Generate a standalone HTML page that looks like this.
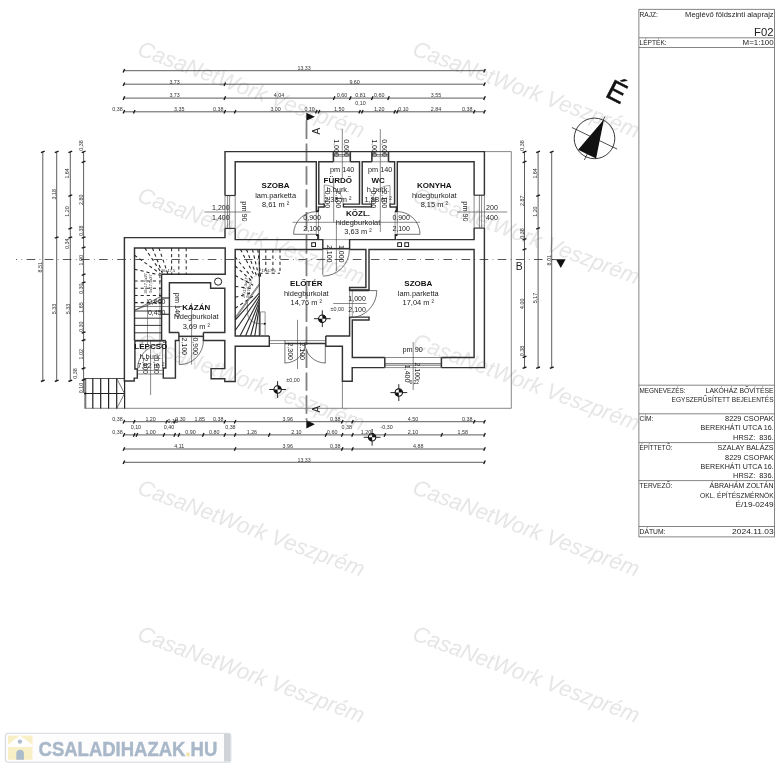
<!DOCTYPE html>
<html lang="hu"><head><meta charset="utf-8"><title>Meglévő földszinti alaprajz</title>
<style>html,body{margin:0;padding:0;background:#fff}svg{display:block}text{font-family:'Liberation Sans', sans-serif}</style>
</head><body>
<svg width="782" height="768" viewBox="0 0 782 768">
<rect width="782" height="768" fill="#fff"/>
<g opacity="0.999">
<text x="136.2" y="54.8" font-size="22.2" font-style="italic" fill="#e6e6e6" textLength="240" lengthAdjust="spacingAndGlyphs" transform="rotate(20.4 136.2 54.8)">CasaNetWork Veszprém</text>
<text x="411.2" y="54.8" font-size="22.2" font-style="italic" fill="#e6e6e6" textLength="240" lengthAdjust="spacingAndGlyphs" transform="rotate(20.4 411.2 54.8)">CasaNetWork Veszprém</text>
<text x="136.2" y="200.9" font-size="22.2" font-style="italic" fill="#e6e6e6" textLength="240" lengthAdjust="spacingAndGlyphs" transform="rotate(20.4 136.2 200.9)">CasaNetWork Veszprém</text>
<text x="411.2" y="200.9" font-size="22.2" font-style="italic" fill="#e6e6e6" textLength="240" lengthAdjust="spacingAndGlyphs" transform="rotate(20.4 411.2 200.9)">CasaNetWork Veszprém</text>
<text x="136.2" y="347.1" font-size="22.2" font-style="italic" fill="#e6e6e6" textLength="240" lengthAdjust="spacingAndGlyphs" transform="rotate(20.4 136.2 347.1)">CasaNetWork Veszprém</text>
<text x="411.2" y="347.1" font-size="22.2" font-style="italic" fill="#e6e6e6" textLength="240" lengthAdjust="spacingAndGlyphs" transform="rotate(20.4 411.2 347.1)">CasaNetWork Veszprém</text>
<text x="136.2" y="493.3" font-size="22.2" font-style="italic" fill="#e6e6e6" textLength="240" lengthAdjust="spacingAndGlyphs" transform="rotate(20.4 136.2 493.3)">CasaNetWork Veszprém</text>
<text x="411.2" y="493.3" font-size="22.2" font-style="italic" fill="#e6e6e6" textLength="240" lengthAdjust="spacingAndGlyphs" transform="rotate(20.4 411.2 493.3)">CasaNetWork Veszprém</text>
<text x="136.2" y="639.4" font-size="22.2" font-style="italic" fill="#e6e6e6" textLength="240" lengthAdjust="spacingAndGlyphs" transform="rotate(20.4 136.2 639.4)">CasaNetWork Veszprém</text>
<text x="411.2" y="639.4" font-size="22.2" font-style="italic" fill="#e6e6e6" textLength="240" lengthAdjust="spacingAndGlyphs" transform="rotate(20.4 411.2 639.4)">CasaNetWork Veszprém</text>
<g stroke="#666" stroke-width="0.8" fill="none">
<rect x="638.9" y="9.3" width="135.5" height="527.6"/>
<line x1="638.9" y1="37.8" x2="774.4" y2="37.8"/>
<line x1="638.9" y1="47.5" x2="774.4" y2="47.5"/>
<line x1="638.9" y1="385.2" x2="774.4" y2="385.2"/>
<line x1="638.9" y1="413.8" x2="774.4" y2="413.8"/>
<line x1="638.9" y1="442.6" x2="774.4" y2="442.6"/>
<line x1="638.9" y1="480.6" x2="774.4" y2="480.6"/>
<line x1="638.9" y1="526.5" x2="774.4" y2="526.5"/>
</g>
<text x="639.5" y="16.8" font-size="6.6" text-anchor="start" font-weight="normal" fill="#222">RAJZ:</text>
<text x="773.6" y="17.4" font-size="6.6" text-anchor="end" font-weight="normal" fill="#222" textLength="88.5" lengthAdjust="spacingAndGlyphs">Meglévő földszinti alaprajz</text>
<text x="773.6" y="35.8" font-size="11.6" text-anchor="end" font-weight="normal" fill="#222" textLength="19.5" lengthAdjust="spacingAndGlyphs">F02</text>
<text x="639.5" y="44.6" font-size="6.6" text-anchor="start" font-weight="normal" fill="#222">LÉPTÉK:</text>
<text x="773.6" y="45.4" font-size="6.6" text-anchor="end" font-weight="normal" fill="#222" textLength="31" lengthAdjust="spacingAndGlyphs">M=1:100</text>
<text x="639.5" y="393" font-size="6.6" text-anchor="start" font-weight="normal" fill="#222" textLength="46" lengthAdjust="spacingAndGlyphs">MEGNEVEZÉS:</text>
<text x="773.6" y="393" font-size="6.6" text-anchor="end" font-weight="normal" fill="#222" textLength="68" lengthAdjust="spacingAndGlyphs">LAKÓHÁZ BŐVÍTÉSE</text>
<text x="773.6" y="401.9" font-size="6.6" text-anchor="end" font-weight="normal" fill="#222" textLength="102" lengthAdjust="spacingAndGlyphs">EGYSZERŰSÍTETT BEJELENTÉS</text>
<text x="639.5" y="421" font-size="6.6" text-anchor="start" font-weight="normal" fill="#222">CÍM:</text>
<text x="773.6" y="421" font-size="6.6" text-anchor="end" font-weight="normal" fill="#222" textLength="48.5" lengthAdjust="spacingAndGlyphs">8229 CSOPAK</text>
<text x="773.6" y="430" font-size="6.6" text-anchor="end" font-weight="normal" fill="#222" textLength="73" lengthAdjust="spacingAndGlyphs">BEREKHÁTI UTCA 16.</text>
<text x="773.6" y="439.8" font-size="6.6" text-anchor="end" font-weight="normal" fill="#222" textLength="40.5" lengthAdjust="spacingAndGlyphs">HRSZ:&#160;&#160;836.</text>
<text x="639.5" y="449.7" font-size="6.6" text-anchor="start" font-weight="normal" fill="#222" textLength="33" lengthAdjust="spacingAndGlyphs">ÉPÍTTETŐ:</text>
<text x="773.6" y="449.7" font-size="6.6" text-anchor="end" font-weight="normal" fill="#222" textLength="56" lengthAdjust="spacingAndGlyphs">SZALAY BALÁZS</text>
<text x="773.6" y="459.8" font-size="6.6" text-anchor="end" font-weight="normal" fill="#222" textLength="48.5" lengthAdjust="spacingAndGlyphs">8229 CSOPAK</text>
<text x="773.6" y="468.7" font-size="6.6" text-anchor="end" font-weight="normal" fill="#222" textLength="73" lengthAdjust="spacingAndGlyphs">BEREKHÁTI UTCA 16.</text>
<text x="773.6" y="478.3" font-size="6.6" text-anchor="end" font-weight="normal" fill="#222" textLength="40.5" lengthAdjust="spacingAndGlyphs">HRSZ:&#160;&#160;836.</text>
<text x="639.5" y="487.9" font-size="6.6" text-anchor="start" font-weight="normal" fill="#222" textLength="33" lengthAdjust="spacingAndGlyphs">TERVEZŐ:</text>
<text x="773.6" y="487.9" font-size="6.6" text-anchor="end" font-weight="normal" fill="#222" textLength="64" lengthAdjust="spacingAndGlyphs">ÁBRAHÁM ZOLTÁN</text>
<text x="773.6" y="497.7" font-size="6.6" text-anchor="end" font-weight="normal" fill="#222" textLength="73.5" lengthAdjust="spacingAndGlyphs">OKL. ÉPÍTÉSZMÉRNÖK</text>
<text x="773.6" y="506.6" font-size="6.6" text-anchor="end" font-weight="normal" fill="#222" textLength="38" lengthAdjust="spacingAndGlyphs">É/19-0249</text>
<text x="639.5" y="534" font-size="6.6" text-anchor="start" font-weight="normal" fill="#222" textLength="26" lengthAdjust="spacingAndGlyphs">DÁTUM:</text>
<text x="773.6" y="534" font-size="6.6" text-anchor="end" font-weight="normal" fill="#222" textLength="41.5" lengthAdjust="spacingAndGlyphs">2024.11.03</text>
<circle cx="594.5" cy="138.4" r="20.3" fill="none" stroke="#222" stroke-width="0.9"/>
<line x1="571.9" y1="127.5" x2="617.2" y2="149.1" stroke="#222" stroke-width="0.8" />
<line x1="605" y1="116.3" x2="584.4" y2="160" stroke="#222" stroke-width="0.8" />
<path d="M603.9 119.4 L578.1 149.8 L596.1 158.4 Z" fill="#111"/>
<text x="612.6" y="100.2" font-size="28" text-anchor="middle" font-weight="normal" fill="#111" transform="rotate(27 612.6 100.2)" style="stroke:#111;stroke-width:0.5">É</text>
<path d="M484.4 151.6 L511.3 151.6 L511.3 408.3 L84.6 408.3" fill="none" stroke="#555" stroke-width="0.7" />
<line x1="342.4" y1="381.2" x2="342.4" y2="408.3" stroke="#555" stroke-width="0.7" />
<line x1="16" y1="259.5" x2="553" y2="259.5" stroke="#444" stroke-width="0.9" stroke-dasharray="8.6 4.41 0.7 4.41" stroke-dashoffset="7.52"/>
<line x1="306.5" y1="120.5" x2="306.5" y2="420" stroke="#808080" stroke-width="1.8" stroke-dasharray="18.4 4.5"/>
<path d="M306.3 112.8 L306.3 120.8 L314.9 116.8 Z" fill="#111"/>
<path d="M306.3 419.9 L306.3 428.5 L314.9 424.2 Z" fill="#111"/>
<text x="319.9" y="131.2" font-size="10" text-anchor="middle" font-weight="normal" fill="#222" transform="rotate(-90 319.9 131.2)">A</text>
<text x="319.9" y="409.2" font-size="10" text-anchor="middle" font-weight="normal" fill="#222" transform="rotate(-90 319.9 409.2)">A</text>
<path d="M555.9 259.3 L565.6 259.3 L560.8 267.9 Z" fill="#111"/>
<line x1="552" y1="259.6" x2="556" y2="259.6" stroke="#333" stroke-width="0.9" />
<text x="519.3" y="269.6" font-size="10.4" text-anchor="middle" font-weight="normal" fill="#222">B</text>
<path d="M225 195.5 L225 151.6 L484.4 151.6 L484.4 195.2" fill="none" stroke="#333333" stroke-width="1.45" />
<path d="M484.4 228.1 L484.4 367.6 L441.4 367.6" fill="none" stroke="#333333" stroke-width="1.45" />
<path d="M384.8 367.6 L352.2 367.6 L352.2 381.2 L342.4 381.2 L342.4 346.2 L325.8 346.2 L325.8 335.9" fill="none" stroke="#333333" stroke-width="1.45" />
<path d="M269.3 336 L269.3 346.2 L235.2 346.2 L235.2 381.4 L224.8 381.4 L224.8 378.8 L211.1 378.8 L211.1 368.6 L224.8 368.6 L224.8 340.5 L203.4 340.5 L203.4 332.6" fill="none" stroke="#333333" stroke-width="1.45" />
<path d="M178.9 332.4 L178.9 340.5 L175.4 340.5 L175.4 378.1 L163.3 378.1 L163.3 368 L165.8 368 L165.8 340.7" fill="none" stroke="#333333" stroke-width="1.45" />
<path d="M134.9 340.7 L134.9 368.9 L137.3 368.9 L137.3 378.1 L134.2 378.1 L134.2 380.9 L124.4 380.9 L124.4 237.6 L225 237.6 L225 228.4" fill="none" stroke="#333333" stroke-width="1.45" />
<path d="M316.3 211 L316.3 161.8 L235.2 161.8 L235.2 195.5" fill="none" stroke="#333333" stroke-width="1.45" />
<path d="M235.2 228.4 L235.2 239.6 L322.8 239.6 L322.8 249.5" fill="none" stroke="#333333" stroke-width="1.45" />
<path d="M316.3 235.1 L317.9 235.1 L317.9 239.6" fill="none" stroke="#333333" stroke-width="1.45" />
<line x1="225" y1="195.5" x2="235.2" y2="195.5" stroke="#333333" stroke-width="1.2" />
<line x1="225" y1="228.4" x2="235.2" y2="228.4" stroke="#333333" stroke-width="1.2" />
<line x1="225" y1="195.5" x2="225" y2="228.4" stroke="#3a3a3a" stroke-width="0.6" />
<line x1="235.2" y1="195.5" x2="235.2" y2="228.4" stroke="#3a3a3a" stroke-width="0.6" />
<line x1="227.6" y1="195.5" x2="227.6" y2="228.4" stroke="#3a3a3a" stroke-width="0.6" />
<line x1="229.6" y1="195.5" x2="229.6" y2="228.4" stroke="#3a3a3a" stroke-width="0.6" />
<path d="M324.2 204.1 L318.8 204.1 L318.8 161.8 L333.4 161.8" fill="none" stroke="#333333" stroke-width="1.45" />
<path d="M350.3 161.8 L359.5 161.8 L359.5 204.1 L343.4 204.1" fill="none" stroke="#333333" stroke-width="1.45" />
<path d="M371.5 204.1 L362.2 204.1 L362.2 161.8 L371.9 161.8" fill="none" stroke="#333333" stroke-width="1.45" />
<path d="M388.5 161.8 L394.6 161.8 L394.6 204.1 L390 204.1" fill="none" stroke="#333333" stroke-width="1.45" />
<line x1="333.4" y1="151.6" x2="333.4" y2="161.8" stroke="#333333" stroke-width="1.6" />
<line x1="350.3" y1="151.6" x2="350.3" y2="161.8" stroke="#333333" stroke-width="1.6" />
<line x1="333.4" y1="161.8" x2="350.3" y2="161.8" stroke="#3a3a3a" stroke-width="0.6" />
<line x1="333.4" y1="154.6" x2="350.3" y2="154.6" stroke="#3a3a3a" stroke-width="0.6" />
<line x1="333.4" y1="156.2" x2="350.3" y2="156.2" stroke="#3a3a3a" stroke-width="0.6" />
<line x1="371.9" y1="151.6" x2="371.9" y2="161.8" stroke="#333333" stroke-width="1.6" />
<line x1="388.5" y1="151.6" x2="388.5" y2="161.8" stroke="#333333" stroke-width="1.6" />
<line x1="371.9" y1="161.8" x2="388.5" y2="161.8" stroke="#3a3a3a" stroke-width="0.6" />
<line x1="371.9" y1="154.6" x2="388.5" y2="154.6" stroke="#3a3a3a" stroke-width="0.6" />
<line x1="371.9" y1="156.2" x2="388.5" y2="156.2" stroke="#3a3a3a" stroke-width="0.6" />
<path d="M324.2 206.9 L318.4 206.9 L318.4 211" fill="none" stroke="#333333" stroke-width="1.45" />
<path d="M343.4 206.9 L371.5 206.9" fill="none" stroke="#333333" stroke-width="1.45" />
<path d="M390 206.9 L396.4 206.9 L396.4 211" fill="none" stroke="#333333" stroke-width="1.45" />
<path d="M318.4 235.1 L318.4 239.6" fill="none" stroke="#333333" stroke-width="1.45" />
<line x1="324.2" y1="203.6" x2="324.2" y2="207.4" stroke="#333333" stroke-width="1.4" />
<line x1="343.4" y1="203.6" x2="343.4" y2="207.4" stroke="#333333" stroke-width="1.4" />
<line x1="371.5" y1="203.6" x2="371.5" y2="207.4" stroke="#333333" stroke-width="1.4" />
<line x1="390" y1="203.6" x2="390" y2="207.4" stroke="#333333" stroke-width="1.4" />
<path d="M349.6 249.5 L349.6 239.6 L395.3 239.6 L395.3 235.1 L397.3 235.1" fill="none" stroke="#333333" stroke-width="1.45" />
<line x1="316.3" y1="211" x2="318.4" y2="211" stroke="#333333" stroke-width="1.2" />
<line x1="396.4" y1="211" x2="397.3" y2="211" stroke="#333333" stroke-width="1.2" />
<path d="M397.3 211 L397.3 161.8 L474.1 161.8 L474.1 195.2" fill="none" stroke="#333333" stroke-width="1.45" />
<path d="M474.1 228.1 L474.1 239.6 L396.2 239.6" fill="none" stroke="#333333" stroke-width="1.45" />
<line x1="474.1" y1="195.2" x2="484.4" y2="195.2" stroke="#333333" stroke-width="1.2" />
<line x1="474.1" y1="228.1" x2="484.4" y2="228.1" stroke="#333333" stroke-width="1.2" />
<line x1="474.1" y1="195.2" x2="474.1" y2="228.1" stroke="#3a3a3a" stroke-width="0.6" />
<line x1="484.4" y1="195.2" x2="484.4" y2="228.1" stroke="#3a3a3a" stroke-width="0.6" />
<line x1="479.4" y1="195.2" x2="479.4" y2="228.1" stroke="#3a3a3a" stroke-width="0.6" />
<line x1="481.6" y1="195.2" x2="481.6" y2="228.1" stroke="#3a3a3a" stroke-width="0.6" />
<path d="M322.8 249.5 L235.2 249.5 L235.2 336 L269.3 336" fill="none" stroke="#333333" stroke-width="1.45" />
<path d="M325.8 336 L349.6 336 L349.6 317.1 L369 317.1 L369 319.9 L352.3 319.9 L352.3 357.5 L384.8 357.5" fill="none" stroke="#333333" stroke-width="1.45" />
<path d="M349.6 249.5 L365.9 249.5 L365.9 287.4 L349.6 287.4 L349.6 290.2 L369 290.2 L369 249.5 L474.1 249.5 L474.1 357.5 L441.4 357.5" fill="none" stroke="#333333" stroke-width="1.45" />
<line x1="384.8" y1="357.5" x2="384.8" y2="367.6" stroke="#333333" stroke-width="1.5" />
<line x1="441.4" y1="357.5" x2="441.4" y2="367.6" stroke="#333333" stroke-width="1.5" />
<line x1="384.8" y1="357.5" x2="441.4" y2="357.5" stroke="#3a3a3a" stroke-width="0.6" />
<line x1="384.8" y1="367.6" x2="441.4" y2="367.6" stroke="#3a3a3a" stroke-width="0.6" />
<line x1="384.8" y1="363.6" x2="441.4" y2="363.6" stroke="#3a3a3a" stroke-width="0.7" />
<line x1="384.8" y1="365.2" x2="441.4" y2="365.2" stroke="#3a3a3a" stroke-width="0.7" />
<path d="M161.6 340.7 L161.6 274.3 L225.2 274.3 L225.2 248 L134.5 248 L134.5 340.7" fill="none" stroke="#333333" stroke-width="1.45" />
<line x1="134.5" y1="340.7" x2="166" y2="340.7" stroke="#333333" stroke-width="1.8" />
<path d="M178.9 332.5 L169.4 332.5 L169.4 282.8 L210.6 282.8 L210.6 288.2 L224.8 288.2 L224.8 332.5 L203.4 332.5" fill="none" stroke="#333333" stroke-width="1.45" />
<circle cx="218.1" cy="281.6" r="3.6" fill="#fff" stroke="#222" stroke-width="1"/>
<rect x="311.7" y="242.7" width="3.8" height="3.8" fill="#fff" stroke="#222" stroke-width="1"/>
<rect x="397.7" y="242.7" width="3.8" height="3.8" fill="#fff" stroke="#222" stroke-width="1"/>
<rect x="404.8" y="242.7" width="3.8" height="3.8" fill="#fff" stroke="#222" stroke-width="1"/>
<line x1="293.6" y1="234.3" x2="316.3" y2="234.3" stroke="#3a3a3a" stroke-width="0.7" />
<path d="M293.6 234.3 A22.7 22.7 0 0 1 316.3 211.6" fill="none" stroke="#3a3a3a" stroke-width="0.7"/>
<line x1="316.3" y1="211" x2="316.3" y2="235" stroke="#3a3a3a" stroke-width="0.5" />
<line x1="318.5" y1="211" x2="318.5" y2="235" stroke="#3a3a3a" stroke-width="0.5" />
<line x1="397.3" y1="234.3" x2="420" y2="234.3" stroke="#3a3a3a" stroke-width="0.7" />
<path d="M397.3 211.6 A22.7 22.7 0 0 1 420 234.3" fill="none" stroke="#3a3a3a" stroke-width="0.7"/>
<line x1="395.1" y1="211" x2="395.1" y2="235" stroke="#3a3a3a" stroke-width="0.5" />
<line x1="397.3" y1="211" x2="397.3" y2="235" stroke="#3a3a3a" stroke-width="0.5" />
<rect x="316.2" y="210.4" width="2.4" height="1.8" fill="#1c1c1c"/>
<rect x="316.2" y="234.2" width="2.4" height="1.8" fill="#1c1c1c"/>
<rect x="395" y="210.4" width="2.4" height="1.8" fill="#1c1c1c"/>
<rect x="395" y="234.2" width="2.4" height="1.8" fill="#1c1c1c"/>
<line x1="322.8" y1="249.5" x2="322.8" y2="275" stroke="#3a3a3a" stroke-width="0.7" />
<path d="M322.8 276.1 A26.6 26.6 0 0 0 349.4 249.5" fill="none" stroke="#3a3a3a" stroke-width="0.7"/>
<line x1="322.8" y1="239.6" x2="349.6" y2="239.6" stroke="#3a3a3a" stroke-width="0.5" />
<line x1="322.8" y1="248.7" x2="349.6" y2="248.7" stroke="#333333" stroke-width="1.6" />
<line x1="349.6" y1="290.6" x2="376.9" y2="290.6" stroke="#3a3a3a" stroke-width="0.7" />
<path d="M376.8 290.6 A27.2 27.2 0 0 1 349.6 317.8" fill="none" stroke="#3a3a3a" stroke-width="0.7"/>
<line x1="349.6" y1="290.3" x2="369" y2="290.3" stroke="#333333" stroke-width="1.9" />
<line x1="349.6" y1="290.2" x2="349.6" y2="317.1" stroke="#3a3a3a" stroke-width="0.5" />
<line x1="352.3" y1="290.2" x2="352.3" y2="317.1" stroke="#3a3a3a" stroke-width="0.5" />
<line x1="179.3" y1="340.5" x2="179.3" y2="364.6" stroke="#3a3a3a" stroke-width="0.7" />
<path d="M179.3 364.6 A24.1 24.1 0 0 0 203.4 340.5" fill="none" stroke="#3a3a3a" stroke-width="0.7"/>
<line x1="178.9" y1="336.4" x2="203.4" y2="336.4" stroke="#333333" stroke-width="1.3" />
<line x1="162.6" y1="368.5" x2="162.6" y2="344.5" stroke="#3a3a3a" stroke-width="0.7" />
<path d="M162.6 344 A25 25 0 0 0 137.6 369" fill="none" stroke="#3a3a3a" stroke-width="0.7"/>
<line x1="137.3" y1="370.4" x2="163.3" y2="370.4" stroke="#3a3a3a" stroke-width="0.6" />
<line x1="137.3" y1="374" x2="163.3" y2="374" stroke="#3a3a3a" stroke-width="0.6" />
<line x1="269.3" y1="340.6" x2="325.8" y2="340.6" stroke="#3a3a3a" stroke-width="0.6" />
<line x1="269.3" y1="343.5" x2="284.9" y2="343.5" stroke="#3a3a3a" stroke-width="0.6" />
<line x1="284.9" y1="343.5" x2="325.4" y2="343.5" stroke="#333333" stroke-width="1.3" />
<line x1="284.9" y1="340.4" x2="284.9" y2="363.3" stroke="#3a3a3a" stroke-width="0.7" />
<path d="M284.9 363 A20.4 20.4 0 0 0 305.3 342.6" fill="none" stroke="#3a3a3a" stroke-width="0.7"/>
<line x1="325.3" y1="343.5" x2="325.3" y2="363.3" stroke="#3a3a3a" stroke-width="0.7" />
<path d="M325.3 363 A20.4 20.4 0 0 1 304.9 342.6" fill="none" stroke="#3a3a3a" stroke-width="0.7"/>
<line x1="324.2" y1="204" x2="324.2" y2="185" stroke="#3a3a3a" stroke-width="0.5" />
<path d="M324.2 185 A19 19 0 0 1 343.2 204" fill="none" stroke="#3a3a3a" stroke-width="0.5"/>
<line x1="390" y1="204" x2="390" y2="185.5" stroke="#3a3a3a" stroke-width="0.5" />
<path d="M390 185.5 A18.5 18.5 0 0 0 371.5 204" fill="none" stroke="#3a3a3a" stroke-width="0.5"/>
<line x1="85.3" y1="378.5" x2="85.3" y2="408.5" stroke="#777" stroke-width="2" />
<line x1="84.4" y1="378.5" x2="124.4" y2="378.5" stroke="#222" stroke-width="0.8" />
<line x1="84.4" y1="393.5" x2="124.4" y2="393.5" stroke="#222" stroke-width="1" />
<line x1="92.8" y1="378.5" x2="92.8" y2="408.5" stroke="#222" stroke-width="1.2" />
<line x1="100.7" y1="378.5" x2="100.7" y2="408.5" stroke="#222" stroke-width="1.2" />
<line x1="108.6" y1="378.5" x2="108.6" y2="408.5" stroke="#222" stroke-width="1.2" />
<line x1="116.7" y1="378.5" x2="116.7" y2="408.5" stroke="#222" stroke-width="1.2" />
<line x1="124.6" y1="380.9" x2="124.6" y2="408.5" stroke="#222" stroke-width="1.2" />
<path d="M116.7 378.5 L124.6 393.5 L116.7 408.5" fill="none" stroke="#3a3a3a" stroke-width="0.7" />
<circle cx="85.3" cy="393.5" r="1.1" fill="#111"/>
<line x1="134.5" y1="311" x2="161.6" y2="311" stroke="#222" stroke-width="0.9" />
<line x1="134.5" y1="318.2" x2="161.6" y2="318.2" stroke="#222" stroke-width="0.9" />
<line x1="134.5" y1="325.4" x2="161.6" y2="325.4" stroke="#222" stroke-width="0.9" />
<line x1="134.5" y1="332.8" x2="161.6" y2="332.8" stroke="#222" stroke-width="0.9" />
<line x1="134.5" y1="310.4" x2="161.6" y2="296" stroke="#3a3a3a" stroke-width="0.7" />
<line x1="134.5" y1="310.4" x2="161.6" y2="299.5" stroke="#3a3a3a" stroke-width="0.7" />
<line x1="134.5" y1="281" x2="161.6" y2="281" stroke="#2c2c2c" stroke-width="1.05" stroke-dasharray="3.2 2.9"/>
<line x1="134.5" y1="288.2" x2="161.6" y2="288.2" stroke="#2c2c2c" stroke-width="1.05" stroke-dasharray="3.2 2.9"/>
<line x1="134.5" y1="295.4" x2="161.6" y2="295.4" stroke="#2c2c2c" stroke-width="1.05" stroke-dasharray="3.2 2.9"/>
<line x1="134.5" y1="302.6" x2="161.6" y2="302.6" stroke="#2c2c2c" stroke-width="1.05" stroke-dasharray="3.2 2.9"/>
<line x1="171.6" y1="248" x2="171.6" y2="274.3" stroke="#2c2c2c" stroke-width="1.05" stroke-dasharray="3.2 2.9"/>
<line x1="178.8" y1="248" x2="178.8" y2="274.3" stroke="#2c2c2c" stroke-width="1.05" stroke-dasharray="3.2 2.9"/>
<line x1="186.2" y1="248" x2="186.2" y2="274.3" stroke="#2c2c2c" stroke-width="1.05" stroke-dasharray="3.2 2.9"/>
<line x1="134.5" y1="255.2" x2="160.6" y2="273.92" stroke="#222" stroke-width="1.05" stroke-dasharray="3.2 2.9"/>
<line x1="134.5" y1="269.2" x2="160.6" y2="275.32" stroke="#222" stroke-width="1.05" stroke-dasharray="3.2 2.9"/>
<line x1="144.8" y1="248" x2="161.63" y2="273.2" stroke="#222" stroke-width="1.05" stroke-dasharray="3.2 2.9"/>
<line x1="152.4" y1="248" x2="162.39" y2="273.2" stroke="#222" stroke-width="1.05" stroke-dasharray="3.2 2.9"/>
<line x1="158.9" y1="248" x2="168" y2="274.3" stroke="#2c2c2c" stroke-width="1.05" stroke-dasharray="3.2 2.9"/>
<line x1="159.8" y1="275" x2="159.8" y2="300" stroke="#333" stroke-width="0.8" stroke-dasharray="3.2 2.9"/>
<text x="168.2" y="272.4" font-size="4" text-anchor="middle" font-weight="normal" fill="#222">16x17,5</text>
<text x="147.4" y="283.5" font-size="4" text-anchor="middle" font-weight="normal" fill="#2a2a2a" transform="rotate(-90 147.4 283.5)">16x17,5x27</text>
<text x="151.6" y="283.5" font-size="4" text-anchor="middle" font-weight="normal" fill="#2a2a2a" transform="rotate(-90 151.6 283.5)">9x17,5x27</text>
<text x="268.5" y="271.8" font-size="4" text-anchor="middle" font-weight="normal" fill="#222">17x17,5</text>
<text x="246.2" y="288" font-size="4" text-anchor="middle" font-weight="normal" fill="#2a2a2a" transform="rotate(-80 246.2 288)">17x17,5x27</text>
<text x="250.4" y="289" font-size="4" text-anchor="middle" font-weight="normal" fill="#2a2a2a" transform="rotate(-80 250.4 289)">9x17,5x27</text>
<line x1="147.5" y1="299" x2="147.5" y2="345" stroke="#3a3a3a" stroke-width="0.5" />
<line x1="159.9" y1="290" x2="159.9" y2="345" stroke="#3a3a3a" stroke-width="0.5" />
<line x1="259.3" y1="249.5" x2="259.3" y2="336" stroke="#222" stroke-width="1" />
<line x1="259.2" y1="283.7" x2="235.2" y2="317.4" stroke="#222" stroke-width="0.6" />
<line x1="259.2" y1="285.3" x2="235.2" y2="319" stroke="#222" stroke-width="0.6" />
<line x1="259.2" y1="293.2" x2="235.2" y2="320.2" stroke="#2a2a2a" stroke-width="1.1" />
<line x1="259.2" y1="296" x2="235.2" y2="330.5" stroke="#2a2a2a" stroke-width="1.1" />
<line x1="259.2" y1="298.8" x2="240" y2="336" stroke="#2a2a2a" stroke-width="1.1" />
<line x1="259.2" y1="301.6" x2="245.6" y2="336" stroke="#2a2a2a" stroke-width="1.1" />
<line x1="259.2" y1="304.4" x2="250.6" y2="336" stroke="#2a2a2a" stroke-width="1.1" />
<line x1="259.2" y1="307.5" x2="254.8" y2="336" stroke="#2a2a2a" stroke-width="1.1" />
<line x1="235.2" y1="257" x2="253.16" y2="279.11" stroke="#222" stroke-width="1.05" stroke-dasharray="3.2 2.9"/>
<line x1="235.2" y1="266" x2="253.16" y2="282.08" stroke="#222" stroke-width="1.05" stroke-dasharray="3.2 2.9"/>
<line x1="235.2" y1="275.5" x2="253.16" y2="285.21" stroke="#222" stroke-width="1.05" stroke-dasharray="3.2 2.9"/>
<line x1="235.2" y1="286.4" x2="253.16" y2="288.81" stroke="#222" stroke-width="1.05" stroke-dasharray="3.2 2.9"/>
<line x1="235.2" y1="297.3" x2="253.16" y2="292.41" stroke="#222" stroke-width="1.05" stroke-dasharray="3.2 2.9"/>
<line x1="235.2" y1="308.3" x2="253.16" y2="296.04" stroke="#222" stroke-width="1.05" stroke-dasharray="3.2 2.9"/>
<line x1="240.5" y1="249.5" x2="254.91" y2="276.63" stroke="#222" stroke-width="1.05" stroke-dasharray="3.2 2.9"/>
<line x1="246.5" y1="249.5" x2="256.88" y2="276.63" stroke="#222" stroke-width="1.05" stroke-dasharray="3.2 2.9"/>
<line x1="252.5" y1="249.5" x2="258.87" y2="276.63" stroke="#222" stroke-width="1.05" stroke-dasharray="3.2 2.9"/>
<line x1="257.8" y1="249.5" x2="260.61" y2="276.63" stroke="#222" stroke-width="1.05" stroke-dasharray="3.2 2.9"/>
<line x1="265.8" y1="249.5" x2="265.8" y2="273.3" stroke="#2c2c2c" stroke-width="1.05" stroke-dasharray="3.2 2.9"/>
<line x1="272.9" y1="249.5" x2="272.9" y2="273.3" stroke="#2c2c2c" stroke-width="1.05" stroke-dasharray="3.2 2.9"/>
<line x1="280" y1="249.5" x2="280" y2="273.3" stroke="#2c2c2c" stroke-width="1.05" stroke-dasharray="3.2 2.9"/>
<line x1="259.4" y1="273.3" x2="280" y2="273.3" stroke="#2c2c2c" stroke-width="1.05" stroke-dasharray="3.2 2.9"/>
<path d="M247.3 301.9 V311.8 A12 12 0 0 0 259.3 323.8 H264.6" fill="none" stroke="#333" stroke-width="0.6"/>
<path d="M260.5 336 V311.9 H265.1 V336" fill="none" stroke="#777" stroke-width="0.8"/>
<circle cx="264.8" cy="323.8" r="1" fill="#111"/>
<text x="275.6" y="188.3" font-size="8" text-anchor="middle" font-weight="bold" fill="#111">SZOBA</text>
<text x="275.6" y="197.5" font-size="7.45" text-anchor="middle" font-weight="normal" fill="#222">lam.parketta</text>
<text x="275.6" y="206.7" font-size="7.45" text-anchor="middle" font-weight="normal" fill="#222">8,61 m ²</text>
<text x="337.8" y="182.5" font-size="8" text-anchor="middle" font-weight="bold" fill="#111">FÜRDŐ</text>
<text x="337.8" y="192" font-size="7.45" text-anchor="middle" font-weight="normal" fill="#222">h.burk.</text>
<text x="337.8" y="201.5" font-size="7.45" text-anchor="middle" font-weight="normal" fill="#222">2,38 m ²</text>
<text x="378.2" y="182.5" font-size="8" text-anchor="middle" font-weight="bold" fill="#111">WC</text>
<text x="378.2" y="192" font-size="7.45" text-anchor="middle" font-weight="normal" fill="#222">h.burk.</text>
<text x="378.2" y="201.5" font-size="7.45" text-anchor="middle" font-weight="normal" fill="#222">1,88 m ²</text>
<text x="434.3" y="188.3" font-size="8" text-anchor="middle" font-weight="bold" fill="#111">KONYHA</text>
<text x="434.3" y="197.5" font-size="7.45" text-anchor="middle" font-weight="normal" fill="#222">hidegburkolat</text>
<text x="434.3" y="206.7" font-size="7.45" text-anchor="middle" font-weight="normal" fill="#222">8,15 m ²</text>
<text x="358" y="216" font-size="8" text-anchor="middle" font-weight="bold" fill="#111">KÖZL.</text>
<text x="358" y="225.2" font-size="7.45" text-anchor="middle" font-weight="normal" fill="#222">hidegburkolat</text>
<text x="358" y="234.4" font-size="7.45" text-anchor="middle" font-weight="normal" fill="#222">3,63 m ²</text>
<text x="306.3" y="286" font-size="8" text-anchor="middle" font-weight="bold" fill="#111">ELŐTÉR</text>
<text x="306.3" y="295.6" font-size="7.45" text-anchor="middle" font-weight="normal" fill="#222">hidegburkolat</text>
<text x="306.3" y="305.2" font-size="7.45" text-anchor="middle" font-weight="normal" fill="#222">14,76 m ²</text>
<text x="418.3" y="286" font-size="8" text-anchor="middle" font-weight="bold" fill="#111">SZOBA</text>
<text x="418.3" y="295.6" font-size="7.45" text-anchor="middle" font-weight="normal" fill="#222">lam.parketta</text>
<text x="418.3" y="305.2" font-size="7.45" text-anchor="middle" font-weight="normal" fill="#222">17,04 m ²</text>
<text x="196.3" y="310.2" font-size="8" text-anchor="middle" font-weight="bold" fill="#111">KAZÁN</text>
<text x="196.3" y="319.4" font-size="7.45" text-anchor="middle" font-weight="normal" fill="#222">hidegburkolat</text>
<text x="196.3" y="328.6" font-size="7.45" text-anchor="middle" font-weight="normal" fill="#222">3,69 m ²</text>
<text x="150.8" y="349.2" font-size="8" text-anchor="middle" font-weight="bold" fill="#111">LÉPCSŐ</text>
<text x="150.8" y="358.5" font-size="7.45" text-anchor="middle" font-weight="normal" fill="#222">h.burk.</text>
<text x="150.8" y="367.8" font-size="7.45" text-anchor="middle" font-weight="normal" fill="#222">7,82 m ²</text>
<text x="342.2" y="172.2" font-size="7.3" text-anchor="middle" font-weight="normal" fill="#222">pm 140</text>
<text x="380.2" y="172.2" font-size="7.3" text-anchor="middle" font-weight="normal" fill="#222">pm 140</text>
<text x="412.7" y="352" font-size="7.3" text-anchor="middle" font-weight="normal" fill="#222">pm 90</text>
<text x="242" y="211.5" font-size="7.3" text-anchor="middle" font-weight="normal" fill="#222" transform="rotate(90 242 211.5)">pm 90</text>
<text x="462.8" y="211.5" font-size="7.3" text-anchor="middle" font-weight="normal" fill="#222" transform="rotate(90 462.8 211.5)">pm 90</text>
<text x="174.6" y="305" font-size="7.3" text-anchor="middle" font-weight="normal" fill="#222" transform="rotate(90 174.6 305)">pm 140</text>
<text x="229.6" y="209.8" font-size="7" text-anchor="end" font-weight="normal" fill="#222">1,200</text>
<text x="229.6" y="220.3" font-size="7" text-anchor="end" font-weight="normal" fill="#222">1,400</text>
<line x1="204.5" y1="212" x2="250.5" y2="212" stroke="#3a3a3a" stroke-width="0.6" />
<text x="486.1" y="209.6" font-size="7" text-anchor="start" font-weight="normal" fill="#222">200</text>
<text x="486.1" y="220.1" font-size="7" text-anchor="start" font-weight="normal" fill="#222">400</text>
<line x1="457.2" y1="212" x2="507.3" y2="212" stroke="#3a3a3a" stroke-width="0.6" />
<text x="320.9" y="220" font-size="7" text-anchor="end" font-weight="normal" fill="#222">0,900</text>
<text x="320.9" y="230.9" font-size="7" text-anchor="end" font-weight="normal" fill="#222">2,100</text>
<line x1="292.5" y1="222.3" x2="420.1" y2="222.3" stroke="#3a3a3a" stroke-width="0.6" />
<text x="392.4" y="220" font-size="7" text-anchor="start" font-weight="normal" fill="#222">0,900</text>
<text x="392.4" y="230.9" font-size="7" text-anchor="start" font-weight="normal" fill="#222">2,100</text>
<text x="348.3" y="300.7" font-size="7" text-anchor="start" font-weight="normal" fill="#222">1,000</text>
<text x="348.3" y="311.5" font-size="7" text-anchor="start" font-weight="normal" fill="#222">2,100</text>
<line x1="333.2" y1="303.5" x2="366.5" y2="303.5" stroke="#3a3a3a" stroke-width="0.6" />
<text x="333.9" y="139.2" font-size="7" text-anchor="start" font-weight="normal" fill="#222" transform="rotate(90 333.9 139.2)">1,000</text>
<text x="344.3" y="139.2" font-size="7" text-anchor="start" font-weight="normal" fill="#222" transform="rotate(90 344.3 139.2)">0,600</text>
<text x="371.8" y="139.2" font-size="7" text-anchor="start" font-weight="normal" fill="#222" transform="rotate(90 371.8 139.2)">1,000</text>
<text x="382.2" y="139.2" font-size="7" text-anchor="start" font-weight="normal" fill="#222" transform="rotate(90 382.2 139.2)">0,600</text>
<line x1="342.3" y1="129" x2="342.3" y2="178" stroke="#3a3a3a" stroke-width="0.6" />
<line x1="380.3" y1="129" x2="380.3" y2="232" stroke="#3a3a3a" stroke-width="0.6" />
<line x1="333.7" y1="182" x2="333.7" y2="222.1" stroke="#3a3a3a" stroke-width="0.6" />
<line x1="336.4" y1="222.1" x2="336.4" y2="271" stroke="#3a3a3a" stroke-width="0.6" />
<text x="324.5" y="190.6" font-size="7" text-anchor="start" font-weight="normal" fill="#222" transform="rotate(90 324.5 190.6)">0,700</text>
<text x="335.5" y="190.6" font-size="7" text-anchor="start" font-weight="normal" fill="#222" transform="rotate(90 335.5 190.6)">2,100</text>
<text x="371.1" y="190.6" font-size="7" text-anchor="start" font-weight="normal" fill="#222" transform="rotate(90 371.1 190.6)">0,700</text>
<text x="382.1" y="190.6" font-size="7" text-anchor="start" font-weight="normal" fill="#222" transform="rotate(90 382.1 190.6)">2,100</text>
<text x="327.3" y="245" font-size="7" text-anchor="start" font-weight="normal" fill="#222" transform="rotate(90 327.3 245)">2,100</text>
<text x="338.9" y="245" font-size="7" text-anchor="start" font-weight="normal" fill="#222" transform="rotate(90 338.9 245)">1,000</text>
<text x="288" y="342.5" font-size="7" text-anchor="start" font-weight="normal" fill="#222" transform="rotate(90 288 342.5)">2,300</text>
<text x="300.3" y="342.5" font-size="7" text-anchor="start" font-weight="normal" fill="#222" transform="rotate(90 300.3 342.5)">2,100</text>
<line x1="297.5" y1="319.8" x2="297.5" y2="369" stroke="#3a3a3a" stroke-width="0.6" />
<text x="182" y="337.5" font-size="7" text-anchor="start" font-weight="normal" fill="#222" transform="rotate(90 182 337.5)">2,100</text>
<text x="193.3" y="337.5" font-size="7" text-anchor="start" font-weight="normal" fill="#222" transform="rotate(90 193.3 337.5)">0,900</text>
<line x1="191.6" y1="303" x2="191.6" y2="364.5" stroke="#3a3a3a" stroke-width="0.6" />
<line x1="178.9" y1="336.4" x2="203.4" y2="336.4" stroke="#333333" stroke-width="1.3" />
<text x="142.6" y="357.8" font-size="6.4" text-anchor="start" font-weight="normal" fill="#222" transform="rotate(90 142.6 357.8)">2,100</text>
<text x="153.6" y="357.8" font-size="6.4" text-anchor="start" font-weight="normal" fill="#222" transform="rotate(90 153.6 357.8)">0,900</text>
<line x1="150.6" y1="340" x2="150.6" y2="395" stroke="#3a3a3a" stroke-width="0.6" />
<text x="405.2" y="364.8" font-size="7" text-anchor="start" font-weight="normal" fill="#222" transform="rotate(90 405.2 364.8)">1,400</text>
<text x="415.2" y="362.5" font-size="7" text-anchor="start" font-weight="normal" fill="#222" transform="rotate(90 415.2 362.5)">2,100</text>
<line x1="413.2" y1="342" x2="413.2" y2="390" stroke="#3a3a3a" stroke-width="0.6" />
<text x="413.6" y="384.4" font-size="4.7" text-anchor="middle" font-weight="normal" fill="#222">-0,22</text>
<text x="156.7" y="303.6" font-size="7" text-anchor="middle" font-weight="normal" fill="#222">0,600</text>
<text x="156.7" y="314.5" font-size="7" text-anchor="middle" font-weight="normal" fill="#222">0,450</text>
<line x1="134.5" y1="306.5" x2="182.7" y2="306.5" stroke="#3a3a3a" stroke-width="0.6" />
<line x1="161.6" y1="298" x2="169.4" y2="298" stroke="#333333" stroke-width="1.2" />
<line x1="161.6" y1="314.3" x2="169.4" y2="314.3" stroke="#333333" stroke-width="1.2" />
<line x1="313.9" y1="318.7" x2="330.7" y2="318.7" stroke="#111" stroke-width="0.9" />
<line x1="322.3" y1="310.3" x2="322.3" y2="327.1" stroke="#111" stroke-width="0.9" />
<circle cx="322.3" cy="318.7" r="3.7" fill="#fff" stroke="#111" stroke-width="1.1"/>
<path d="M322.3 318.7 L322.3 315 A3.7 3.7 0 0 1 326 318.7 Z" fill="#111"/>
<path d="M322.3 318.7 L322.3 322.4 A3.7 3.7 0 0 1 318.6 318.7 Z" fill="#111"/>
<line x1="269.2" y1="389.5" x2="286" y2="389.5" stroke="#111" stroke-width="0.9" />
<line x1="277.6" y1="381.1" x2="277.6" y2="397.9" stroke="#111" stroke-width="0.9" />
<circle cx="277.6" cy="389.5" r="3.7" fill="#fff" stroke="#111" stroke-width="1.1"/>
<path d="M277.6 389.5 L277.6 385.8 A3.7 3.7 0 0 1 281.3 389.5 Z" fill="#111"/>
<path d="M277.6 389.5 L277.6 393.2 A3.7 3.7 0 0 1 273.9 389.5 Z" fill="#111"/>
<line x1="390.4" y1="392.6" x2="407.2" y2="392.6" stroke="#111" stroke-width="0.9" />
<line x1="398.8" y1="384.2" x2="398.8" y2="401" stroke="#111" stroke-width="0.9" />
<circle cx="398.8" cy="392.6" r="3.7" fill="#fff" stroke="#111" stroke-width="1.1"/>
<path d="M398.8 392.6 L398.8 388.9 A3.7 3.7 0 0 1 402.5 392.6 Z" fill="#111"/>
<path d="M398.8 392.6 L398.8 396.3 A3.7 3.7 0 0 1 395.1 392.6 Z" fill="#111"/>
<line x1="363.7" y1="437.3" x2="380.5" y2="437.3" stroke="#111" stroke-width="0.9" />
<line x1="372.1" y1="428.9" x2="372.1" y2="445.7" stroke="#111" stroke-width="0.9" />
<circle cx="372.1" cy="437.3" r="3.7" fill="#fff" stroke="#111" stroke-width="1.1"/>
<path d="M372.1 437.3 L372.1 433.6 A3.7 3.7 0 0 1 375.8 437.3 Z" fill="#111"/>
<path d="M372.1 437.3 L372.1 441 A3.7 3.7 0 0 1 368.4 437.3 Z" fill="#111"/>
<text x="337.2" y="311.3" font-size="5.4" text-anchor="middle" font-weight="normal" fill="#333">±0,00</text>
<text x="293" y="381.7" font-size="5.4" text-anchor="middle" font-weight="normal" fill="#333">±0,00</text>
<line x1="123.9" y1="70.7" x2="484.5" y2="70.7" stroke="#333" stroke-width="0.8" />
<line x1="123.1" y1="72.5" x2="124.7" y2="68.9" stroke="#1a1a1a" stroke-width="1.35" />
<line x1="483.7" y1="72.5" x2="485.3" y2="68.9" stroke="#1a1a1a" stroke-width="1.35" />
<text x="304.1" y="70" font-size="5.35" text-anchor="middle" font-weight="normal" fill="#333">13,33</text>
<line x1="123.9" y1="84.2" x2="484.5" y2="84.2" stroke="#333" stroke-width="0.8" />
<line x1="123.1" y1="86" x2="124.7" y2="82.4" stroke="#1a1a1a" stroke-width="1.35" />
<line x1="224" y1="86" x2="225.6" y2="82.4" stroke="#1a1a1a" stroke-width="1.35" />
<line x1="483.7" y1="86" x2="485.3" y2="82.4" stroke="#1a1a1a" stroke-width="1.35" />
<text x="174.6" y="83.5" font-size="5.35" text-anchor="middle" font-weight="normal" fill="#333">3,73</text>
<text x="354.6" y="83.5" font-size="5.35" text-anchor="middle" font-weight="normal" fill="#333">9,60</text>
<line x1="123.9" y1="98.1" x2="484.5" y2="98.1" stroke="#333" stroke-width="0.8" />
<line x1="123.1" y1="99.9" x2="124.7" y2="96.3" stroke="#1a1a1a" stroke-width="1.35" />
<line x1="224" y1="99.9" x2="225.6" y2="96.3" stroke="#1a1a1a" stroke-width="1.35" />
<line x1="333.3" y1="99.9" x2="334.9" y2="96.3" stroke="#1a1a1a" stroke-width="1.35" />
<line x1="349.5" y1="99.9" x2="351.1" y2="96.3" stroke="#1a1a1a" stroke-width="1.35" />
<line x1="371.4" y1="99.9" x2="373" y2="96.3" stroke="#1a1a1a" stroke-width="1.35" />
<line x1="387.7" y1="99.9" x2="389.3" y2="96.3" stroke="#1a1a1a" stroke-width="1.35" />
<line x1="483.7" y1="99.9" x2="485.3" y2="96.3" stroke="#1a1a1a" stroke-width="1.35" />
<text x="174.6" y="97.4" font-size="5.35" text-anchor="middle" font-weight="normal" fill="#333">3,73</text>
<text x="279" y="97.4" font-size="5.35" text-anchor="middle" font-weight="normal" fill="#333">4,04</text>
<text x="342" y="97.4" font-size="5.35" text-anchor="middle" font-weight="normal" fill="#333">0,60</text>
<text x="360.5" y="97.4" font-size="5.35" text-anchor="middle" font-weight="normal" fill="#333">0,81</text>
<text x="379.2" y="97.4" font-size="5.35" text-anchor="middle" font-weight="normal" fill="#333">0,60</text>
<text x="436" y="97.4" font-size="5.35" text-anchor="middle" font-weight="normal" fill="#333">3,55</text>
<line x1="123.9" y1="111.8" x2="484.5" y2="111.8" stroke="#333" stroke-width="0.8" />
<line x1="123.1" y1="113.6" x2="124.7" y2="110" stroke="#1a1a1a" stroke-width="1.35" />
<line x1="133.4" y1="113.6" x2="135" y2="110" stroke="#1a1a1a" stroke-width="1.35" />
<line x1="224" y1="113.6" x2="225.6" y2="110" stroke="#1a1a1a" stroke-width="1.35" />
<line x1="234.3" y1="113.6" x2="235.9" y2="110" stroke="#1a1a1a" stroke-width="1.35" />
<line x1="315.5" y1="113.6" x2="317.1" y2="110" stroke="#1a1a1a" stroke-width="1.35" />
<line x1="318.2" y1="113.6" x2="319.8" y2="110" stroke="#1a1a1a" stroke-width="1.35" />
<line x1="358.8" y1="113.6" x2="360.4" y2="110" stroke="#1a1a1a" stroke-width="1.35" />
<line x1="361.5" y1="113.6" x2="363.1" y2="110" stroke="#1a1a1a" stroke-width="1.35" />
<line x1="393.9" y1="113.6" x2="395.5" y2="110" stroke="#1a1a1a" stroke-width="1.35" />
<line x1="396.6" y1="113.6" x2="398.2" y2="110" stroke="#1a1a1a" stroke-width="1.35" />
<line x1="473.4" y1="113.6" x2="475" y2="110" stroke="#1a1a1a" stroke-width="1.35" />
<line x1="483.7" y1="113.6" x2="485.3" y2="110" stroke="#1a1a1a" stroke-width="1.35" />
<text x="117.5" y="111.1" font-size="5.35" text-anchor="middle" font-weight="normal" fill="#333">0,38</text>
<text x="179.2" y="111.1" font-size="5.35" text-anchor="middle" font-weight="normal" fill="#333">3,35</text>
<text x="218.2" y="111.1" font-size="5.35" text-anchor="middle" font-weight="normal" fill="#333">0,38</text>
<text x="275.6" y="111.1" font-size="5.35" text-anchor="middle" font-weight="normal" fill="#333">3,00</text>
<text x="309.6" y="111.1" font-size="5.35" text-anchor="middle" font-weight="normal" fill="#333">0,10</text>
<text x="339.3" y="111.1" font-size="5.35" text-anchor="middle" font-weight="normal" fill="#333">1,50</text>
<text x="360.5" y="105.2" font-size="5.35" text-anchor="middle" font-weight="normal" fill="#333">0,10</text>
<text x="379.2" y="111.1" font-size="5.35" text-anchor="middle" font-weight="normal" fill="#333">1,20</text>
<text x="403.4" y="111.1" font-size="5.35" text-anchor="middle" font-weight="normal" fill="#333">0,10</text>
<text x="436" y="111.1" font-size="5.35" text-anchor="middle" font-weight="normal" fill="#333">2,84</text>
<text x="467.3" y="111.1" font-size="5.35" text-anchor="middle" font-weight="normal" fill="#333">0,38</text>
<line x1="123.9" y1="421.7" x2="484.5" y2="421.7" stroke="#333" stroke-width="0.8" />
<line x1="123.1" y1="423.5" x2="124.7" y2="419.9" stroke="#1a1a1a" stroke-width="1.35" />
<line x1="133.4" y1="423.5" x2="135" y2="419.9" stroke="#1a1a1a" stroke-width="1.35" />
<line x1="165.8" y1="423.5" x2="167.4" y2="419.9" stroke="#1a1a1a" stroke-width="1.35" />
<line x1="173.9" y1="423.5" x2="175.5" y2="419.9" stroke="#1a1a1a" stroke-width="1.35" />
<line x1="224" y1="423.5" x2="225.6" y2="419.9" stroke="#1a1a1a" stroke-width="1.35" />
<line x1="234.3" y1="423.5" x2="235.9" y2="419.9" stroke="#1a1a1a" stroke-width="1.35" />
<line x1="341.4" y1="423.5" x2="343" y2="419.9" stroke="#1a1a1a" stroke-width="1.35" />
<line x1="351.7" y1="423.5" x2="353.3" y2="419.9" stroke="#1a1a1a" stroke-width="1.35" />
<line x1="473.4" y1="423.5" x2="475" y2="419.9" stroke="#1a1a1a" stroke-width="1.35" />
<line x1="483.7" y1="423.5" x2="485.3" y2="419.9" stroke="#1a1a1a" stroke-width="1.35" />
<text x="117.5" y="421" font-size="5.35" text-anchor="middle" font-weight="normal" fill="#333">0,38</text>
<text x="150.6" y="421" font-size="5.35" text-anchor="middle" font-weight="normal" fill="#333">1,20</text>
<text x="180.4" y="421" font-size="5.35" text-anchor="middle" font-weight="normal" fill="#333">0,30</text>
<text x="199.8" y="421" font-size="5.35" text-anchor="middle" font-weight="normal" fill="#333">1,85</text>
<text x="218.2" y="421" font-size="5.35" text-anchor="middle" font-weight="normal" fill="#333">0,38</text>
<text x="287.8" y="421" font-size="5.35" text-anchor="middle" font-weight="normal" fill="#333">3,96</text>
<text x="335.3" y="421" font-size="5.35" text-anchor="middle" font-weight="normal" fill="#333">0,38</text>
<text x="413" y="421" font-size="5.35" text-anchor="middle" font-weight="normal" fill="#333">4,50</text>
<text x="467.3" y="421" font-size="5.35" text-anchor="middle" font-weight="normal" fill="#333">0,38</text>
<text x="135.9" y="429.2" font-size="5.35" text-anchor="middle" font-weight="normal" fill="#333">0,10</text>
<text x="169" y="429.2" font-size="5.35" text-anchor="middle" font-weight="normal" fill="#333">0,40</text>
<text x="230.4" y="429.2" font-size="5.35" text-anchor="middle" font-weight="normal" fill="#333">0,38</text>
<text x="346.7" y="429.2" font-size="5.35" text-anchor="middle" font-weight="normal" fill="#333">0,38</text>
<text x="386.6" y="429.2" font-size="5.35" text-anchor="middle" font-weight="normal" fill="#333">-0,30</text>
<line x1="123.9" y1="434.9" x2="484.5" y2="434.9" stroke="#333" stroke-width="0.8" />
<line x1="123.1" y1="436.7" x2="124.7" y2="433.1" stroke="#1a1a1a" stroke-width="1.35" />
<line x1="133.4" y1="436.7" x2="135" y2="433.1" stroke="#1a1a1a" stroke-width="1.35" />
<line x1="136.1" y1="436.7" x2="137.7" y2="433.1" stroke="#1a1a1a" stroke-width="1.35" />
<line x1="163.1" y1="436.7" x2="164.7" y2="433.1" stroke="#1a1a1a" stroke-width="1.35" />
<line x1="173.9" y1="436.7" x2="175.5" y2="433.1" stroke="#1a1a1a" stroke-width="1.35" />
<line x1="178.1" y1="436.7" x2="179.7" y2="433.1" stroke="#1a1a1a" stroke-width="1.35" />
<line x1="202.4" y1="436.7" x2="204" y2="433.1" stroke="#1a1a1a" stroke-width="1.35" />
<line x1="224" y1="436.7" x2="225.6" y2="433.1" stroke="#1a1a1a" stroke-width="1.35" />
<line x1="234.3" y1="436.7" x2="235.9" y2="433.1" stroke="#1a1a1a" stroke-width="1.35" />
<line x1="268.4" y1="436.7" x2="270" y2="433.1" stroke="#1a1a1a" stroke-width="1.35" />
<line x1="325.2" y1="436.7" x2="326.8" y2="433.1" stroke="#1a1a1a" stroke-width="1.35" />
<line x1="341.4" y1="436.7" x2="343" y2="433.1" stroke="#1a1a1a" stroke-width="1.35" />
<line x1="351.7" y1="436.7" x2="353.3" y2="433.1" stroke="#1a1a1a" stroke-width="1.35" />
<line x1="384.1" y1="436.7" x2="385.7" y2="433.1" stroke="#1a1a1a" stroke-width="1.35" />
<line x1="440.9" y1="436.7" x2="442.5" y2="433.1" stroke="#1a1a1a" stroke-width="1.35" />
<line x1="483.7" y1="436.7" x2="485.3" y2="433.1" stroke="#1a1a1a" stroke-width="1.35" />
<text x="117.5" y="434.2" font-size="5.35" text-anchor="middle" font-weight="normal" fill="#333">0,38</text>
<text x="150.6" y="434.2" font-size="5.35" text-anchor="middle" font-weight="normal" fill="#333">1,00</text>
<text x="190.5" y="434.2" font-size="5.35" text-anchor="middle" font-weight="normal" fill="#333">0,90</text>
<text x="214.2" y="434.2" font-size="5.35" text-anchor="middle" font-weight="normal" fill="#333">0,80</text>
<text x="251.9" y="434.2" font-size="5.35" text-anchor="middle" font-weight="normal" fill="#333">1,26</text>
<text x="296.4" y="434.2" font-size="5.35" text-anchor="middle" font-weight="normal" fill="#333">2,10</text>
<text x="332.2" y="434.2" font-size="5.35" text-anchor="middle" font-weight="normal" fill="#333">0,60</text>
<text x="366" y="434.2" font-size="5.35" text-anchor="middle" font-weight="normal" fill="#333">1,20</text>
<text x="413" y="434.2" font-size="5.35" text-anchor="middle" font-weight="normal" fill="#333">2,10</text>
<text x="462.7" y="434.2" font-size="5.35" text-anchor="middle" font-weight="normal" fill="#333">1,58</text>
<line x1="123.9" y1="449" x2="484.5" y2="449" stroke="#333" stroke-width="0.8" />
<line x1="123.1" y1="450.8" x2="124.7" y2="447.2" stroke="#1a1a1a" stroke-width="1.35" />
<line x1="234.3" y1="450.8" x2="235.9" y2="447.2" stroke="#1a1a1a" stroke-width="1.35" />
<line x1="341.4" y1="450.8" x2="343" y2="447.2" stroke="#1a1a1a" stroke-width="1.35" />
<line x1="351.7" y1="450.8" x2="353.3" y2="447.2" stroke="#1a1a1a" stroke-width="1.35" />
<line x1="483.7" y1="450.8" x2="485.3" y2="447.2" stroke="#1a1a1a" stroke-width="1.35" />
<text x="179.2" y="448.3" font-size="5.35" text-anchor="middle" font-weight="normal" fill="#333">4,11</text>
<text x="287.8" y="448.3" font-size="5.35" text-anchor="middle" font-weight="normal" fill="#333">3,96</text>
<text x="335.3" y="448.3" font-size="5.35" text-anchor="middle" font-weight="normal" fill="#333">0,38</text>
<text x="418.2" y="448.3" font-size="5.35" text-anchor="middle" font-weight="normal" fill="#333">4,88</text>
<line x1="123.9" y1="462.3" x2="484.5" y2="462.3" stroke="#333" stroke-width="0.8" />
<line x1="123.1" y1="464.1" x2="124.7" y2="460.5" stroke="#1a1a1a" stroke-width="1.35" />
<line x1="483.7" y1="464.1" x2="485.3" y2="460.5" stroke="#1a1a1a" stroke-width="1.35" />
<text x="304.1" y="461.6" font-size="5.35" text-anchor="middle" font-weight="normal" fill="#333">13,33</text>
<text x="172.8" y="423" font-size="5.35" text-anchor="middle" font-weight="normal" fill="#333">0,10</text>
<line x1="42.8" y1="151.9" x2="42.8" y2="380.8" stroke="#333" stroke-width="0.8" />
<line x1="40.9" y1="152.6" x2="44.7" y2="151.2" stroke="#1a1a1a" stroke-width="1.35" />
<line x1="40.9" y1="381.5" x2="44.7" y2="380.1" stroke="#1a1a1a" stroke-width="1.35" />
<text x="42" y="267.3" font-size="5.35" text-anchor="middle" font-weight="normal" fill="#333" transform="rotate(-90 42 267.3)">8,51</text>
<line x1="56.7" y1="151.9" x2="56.7" y2="380.8" stroke="#333" stroke-width="0.8" />
<line x1="54.8" y1="152.6" x2="58.6" y2="151.2" stroke="#1a1a1a" stroke-width="1.35" />
<line x1="54.8" y1="238.2" x2="58.6" y2="236.8" stroke="#1a1a1a" stroke-width="1.35" />
<line x1="54.8" y1="381.5" x2="58.6" y2="380.1" stroke="#1a1a1a" stroke-width="1.35" />
<text x="55.9" y="194.3" font-size="5.35" text-anchor="middle" font-weight="normal" fill="#333" transform="rotate(-90 55.9 194.3)">3,18</text>
<text x="55.9" y="309" font-size="5.35" text-anchor="middle" font-weight="normal" fill="#333" transform="rotate(-90 55.9 309)">5,33</text>
<line x1="70.3" y1="151.9" x2="70.3" y2="380.8" stroke="#333" stroke-width="0.8" />
<line x1="68.4" y1="152.6" x2="72.2" y2="151.2" stroke="#1a1a1a" stroke-width="1.35" />
<line x1="68.4" y1="196.3" x2="72.2" y2="194.9" stroke="#1a1a1a" stroke-width="1.35" />
<line x1="68.4" y1="229.1" x2="72.2" y2="227.7" stroke="#1a1a1a" stroke-width="1.35" />
<line x1="68.4" y1="238.2" x2="72.2" y2="236.8" stroke="#1a1a1a" stroke-width="1.35" />
<line x1="68.4" y1="381.5" x2="72.2" y2="380.1" stroke="#1a1a1a" stroke-width="1.35" />
<text x="69.5" y="173.4" font-size="5.35" text-anchor="middle" font-weight="normal" fill="#333" transform="rotate(-90 69.5 173.4)">1,64</text>
<text x="69.5" y="211.6" font-size="5.35" text-anchor="middle" font-weight="normal" fill="#333" transform="rotate(-90 69.5 211.6)">1,20</text>
<text x="69.5" y="243.8" font-size="5.35" text-anchor="middle" font-weight="normal" fill="#333" transform="rotate(-90 69.5 243.8)">0,34</text>
<text x="69.5" y="309" font-size="5.35" text-anchor="middle" font-weight="normal" fill="#333" transform="rotate(-90 69.5 309)">5,33</text>
<line x1="83.6" y1="151.9" x2="83.6" y2="392.9" stroke="#333" stroke-width="0.8" />
<line x1="81.7" y1="152.6" x2="85.5" y2="151.2" stroke="#1a1a1a" stroke-width="1.35" />
<line x1="81.7" y1="162.6" x2="85.5" y2="161.2" stroke="#1a1a1a" stroke-width="1.35" />
<line x1="81.7" y1="238.2" x2="85.5" y2="236.8" stroke="#1a1a1a" stroke-width="1.35" />
<line x1="81.7" y1="248.2" x2="85.5" y2="246.8" stroke="#1a1a1a" stroke-width="1.35" />
<line x1="81.7" y1="275.3" x2="85.5" y2="273.9" stroke="#1a1a1a" stroke-width="1.35" />
<line x1="81.7" y1="283.2" x2="85.5" y2="281.8" stroke="#1a1a1a" stroke-width="1.35" />
<line x1="81.7" y1="333.2" x2="85.5" y2="331.8" stroke="#1a1a1a" stroke-width="1.35" />
<line x1="81.7" y1="340.9" x2="85.5" y2="339.5" stroke="#1a1a1a" stroke-width="1.35" />
<line x1="81.7" y1="369" x2="85.5" y2="367.6" stroke="#1a1a1a" stroke-width="1.35" />
<line x1="81.7" y1="380.5" x2="85.5" y2="379.1" stroke="#1a1a1a" stroke-width="1.35" />
<text x="82.8" y="145.5" font-size="5.35" text-anchor="middle" font-weight="normal" fill="#333" transform="rotate(-90 82.8 145.5)">0,38</text>
<text x="82.8" y="199.8" font-size="5.35" text-anchor="middle" font-weight="normal" fill="#333" transform="rotate(-90 82.8 199.8)">2,80</text>
<text x="82.8" y="230.7" font-size="5.35" text-anchor="middle" font-weight="normal" fill="#333" transform="rotate(-90 82.8 230.7)">0,38</text>
<text x="82.8" y="260.2" font-size="5.35" text-anchor="middle" font-weight="normal" fill="#333" transform="rotate(-90 82.8 260.2)">1,00</text>
<text x="82.8" y="288.8" font-size="5.35" text-anchor="middle" font-weight="normal" fill="#333" transform="rotate(-90 82.8 288.8)">0,30</text>
<text x="82.8" y="307.5" font-size="5.35" text-anchor="middle" font-weight="normal" fill="#333" transform="rotate(-90 82.8 307.5)">1,65</text>
<text x="82.8" y="326.7" font-size="5.35" text-anchor="middle" font-weight="normal" fill="#333" transform="rotate(-90 82.8 326.7)">0,30</text>
<text x="82.8" y="354.2" font-size="5.35" text-anchor="middle" font-weight="normal" fill="#333" transform="rotate(-90 82.8 354.2)">1,02</text>
<text x="76.8" y="373.5" font-size="5.35" text-anchor="middle" font-weight="normal" fill="#333" transform="rotate(-90 76.8 373.5)">0,38</text>
<text x="82.8" y="388" font-size="5.35" text-anchor="middle" font-weight="normal" fill="#333" transform="rotate(-90 82.8 388)">0,10</text>
<line x1="524.5" y1="151.9" x2="524.5" y2="367.7" stroke="#333" stroke-width="0.8" />
<line x1="522.6" y1="152.6" x2="526.4" y2="151.2" stroke="#1a1a1a" stroke-width="1.35" />
<line x1="522.6" y1="162.6" x2="526.4" y2="161.2" stroke="#1a1a1a" stroke-width="1.35" />
<line x1="522.6" y1="240" x2="526.4" y2="238.6" stroke="#1a1a1a" stroke-width="1.35" />
<line x1="522.6" y1="250" x2="526.4" y2="248.6" stroke="#1a1a1a" stroke-width="1.35" />
<line x1="522.6" y1="357.6" x2="526.4" y2="356.2" stroke="#1a1a1a" stroke-width="1.35" />
<line x1="522.6" y1="368.4" x2="526.4" y2="367" stroke="#1a1a1a" stroke-width="1.35" />
<text x="523.7" y="145.5" font-size="5.35" text-anchor="middle" font-weight="normal" fill="#333" transform="rotate(-90 523.7 145.5)">0,38</text>
<text x="523.7" y="200.7" font-size="5.35" text-anchor="middle" font-weight="normal" fill="#333" transform="rotate(-90 523.7 200.7)">2,87</text>
<text x="523.7" y="233.5" font-size="5.35" text-anchor="middle" font-weight="normal" fill="#333" transform="rotate(-90 523.7 233.5)">0,38</text>
<text x="523.7" y="303.8" font-size="5.35" text-anchor="middle" font-weight="normal" fill="#333" transform="rotate(-90 523.7 303.8)">4,00</text>
<text x="523.7" y="351" font-size="5.35" text-anchor="middle" font-weight="normal" fill="#333" transform="rotate(-90 523.7 351)">0,38</text>
<line x1="538.1" y1="151.9" x2="538.1" y2="367.7" stroke="#333" stroke-width="0.8" />
<line x1="536.2" y1="152.6" x2="540" y2="151.2" stroke="#1a1a1a" stroke-width="1.35" />
<line x1="536.2" y1="196.3" x2="540" y2="194.9" stroke="#1a1a1a" stroke-width="1.35" />
<line x1="536.2" y1="229.1" x2="540" y2="227.7" stroke="#1a1a1a" stroke-width="1.35" />
<line x1="536.2" y1="368.4" x2="540" y2="367" stroke="#1a1a1a" stroke-width="1.35" />
<text x="537.3" y="173.4" font-size="5.35" text-anchor="middle" font-weight="normal" fill="#333" transform="rotate(-90 537.3 173.4)">1,64</text>
<text x="537.3" y="211.6" font-size="5.35" text-anchor="middle" font-weight="normal" fill="#333" transform="rotate(-90 537.3 211.6)">1,20</text>
<text x="537.3" y="298" font-size="5.35" text-anchor="middle" font-weight="normal" fill="#333" transform="rotate(-90 537.3 298)">5,17</text>
<line x1="551.7" y1="151.9" x2="551.7" y2="367.7" stroke="#333" stroke-width="0.8" />
<line x1="549.8" y1="152.6" x2="553.6" y2="151.2" stroke="#1a1a1a" stroke-width="1.35" />
<line x1="549.8" y1="368.4" x2="553.6" y2="367" stroke="#1a1a1a" stroke-width="1.35" />
<text x="550.9" y="260.2" font-size="5.35" text-anchor="middle" font-weight="normal" fill="#333" transform="rotate(-90 550.9 260.2)">8,01</text>
<g>
<rect x="5.4" y="733.2" width="225.4" height="29" rx="2.8" fill="#fdfdfe" stroke="#d3d9df" stroke-width="1.1"/>
<path d="M224 733.8 H228.3 Q230.2 733.8 230.2 735.7 V759.7 Q230.2 761.6 228.3 761.6 H224 Z" fill="#d0d4d9"/>
<rect x="8" y="735.7" width="24.5" height="24.1" fill="#f8efc6"/>
<path d="M8 747 V744.8 L19.9 735.6 L32.5 744.8 V747 Z" fill="#fefefe"/>
<circle cx="19.9" cy="741.6" r="2.2" fill="#adbccc"/>
<path d="M16.3 759.8 V753.6 Q16.3 749.8 20.1 749.8 Q23.9 749.8 23.9 753.6 V759.8 Z" fill="#adbccc"/>
<text x="38.6" y="755.6" font-size="20.8" font-weight="bold" fill="#a9b8c9" stroke="#a9b8c9" stroke-width="0.45" textLength="178.7" lengthAdjust="spacingAndGlyphs">CSALADIHAZAK<tspan fill="#f3e3a4" stroke="#f3e3a4">.</tspan>HU</text>
</g>
</g>
</svg>
</body></html>
